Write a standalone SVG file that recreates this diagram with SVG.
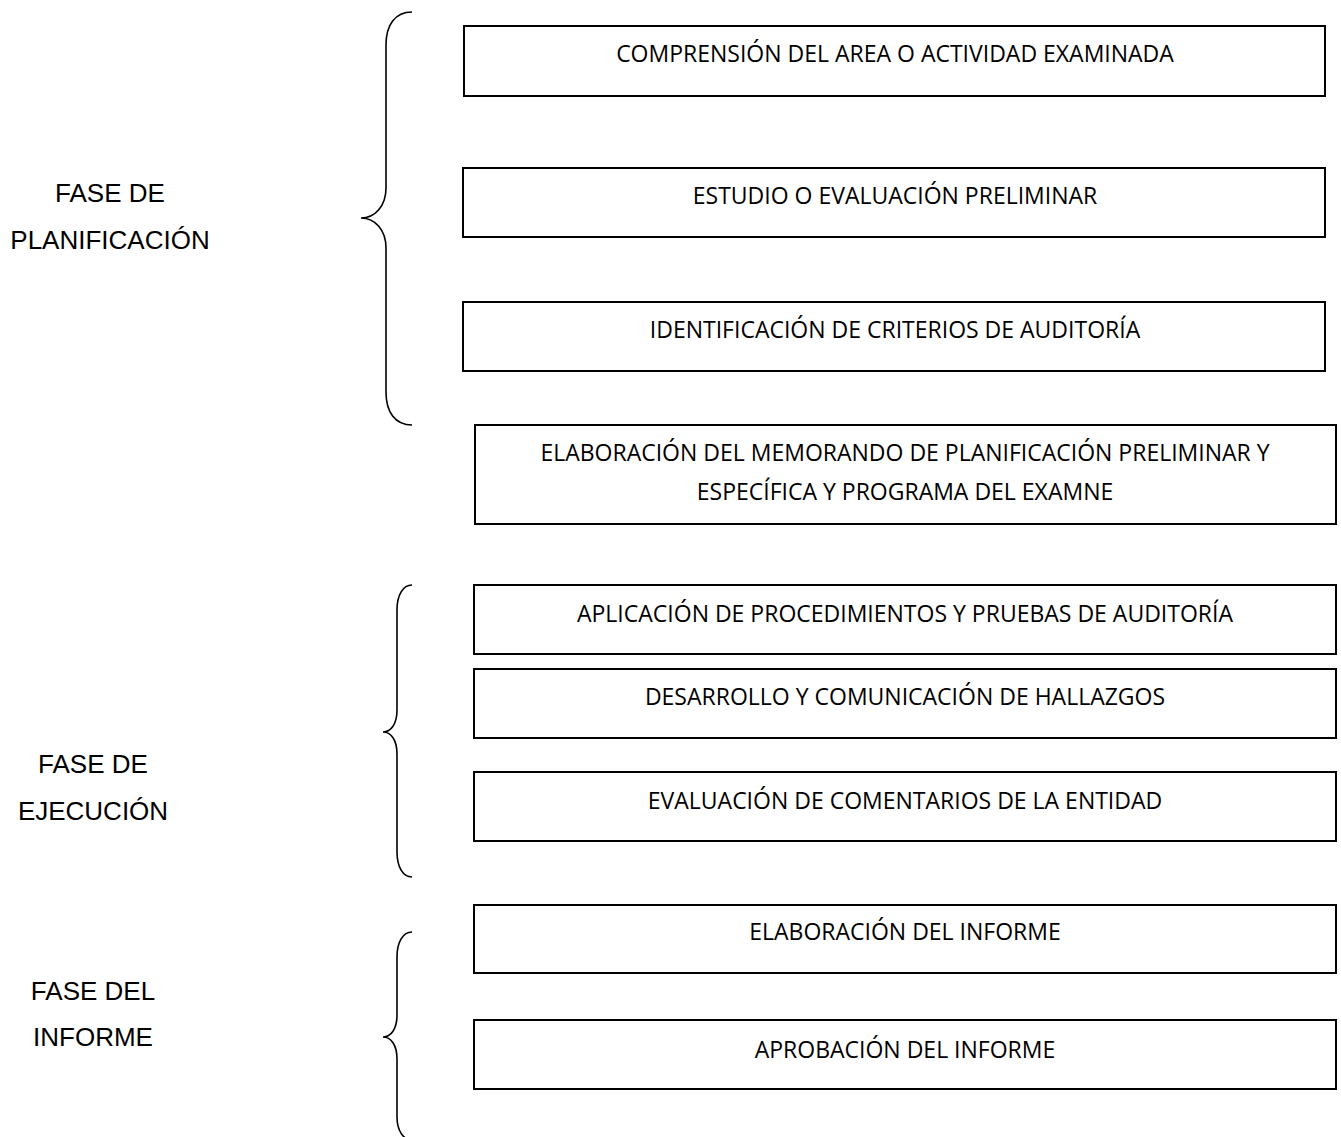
<svg xmlns="http://www.w3.org/2000/svg" width="1341" height="1137" viewBox="0 0 1341 1137">
  <style>
    .box { fill: #ffffff; stroke: #000000; stroke-width: 2; }
    .boxtext { font-family: "Open Sans", "Noto Sans", sans-serif; font-size: 23px; fill: #000000; text-anchor: middle; }
    .phase { font-family: "Liberation Sans", Arial, sans-serif; font-size: 26px; fill: #000000; text-anchor: middle; }
    .brace { fill: none; stroke: #000000; stroke-width: 1.6; }
  </style>
  <rect width="1341" height="1137" fill="#ffffff"/>

  <!-- Phase labels -->
  <g id="phase-planificacion">
    <text class="phase" x="110" y="202">FASE DE</text>
    <text class="phase" x="110" y="249">PLANIFICACIÓN</text>
  </g>
  <g id="phase-ejecucion">
    <text class="phase" x="93" y="773">FASE DE</text>
    <text class="phase" x="93" y="820">EJECUCIÓN</text>
  </g>
  <g id="phase-informe">
    <text class="phase" x="93" y="1000">FASE DEL</text>
    <text class="phase" x="93" y="1046">INFORME</text>
  </g>

  <!-- Braces grouping the steps of each phase -->
  <g id="connectors">
    <path class="brace" d="M412,12 C395,12 386,25 386,45 L386,188 C386,206 375,218 361,218 C375,218 386,230 386,248 L386,392 C386,412 395,425 412,425"/>
    <path class="brace" d="M412,585 C403,585 397,595 397,610 L397,710 C397,724 391,732 383,732 C391,732 397,740 397,754 L397,852 C397,867 403,877 412,877"/>
    <path class="brace" d="M412,932 C403,932 397,942 397,957 L397,1015 C397,1029 391,1037 383,1037 C391,1037 397,1045 397,1059 L397,1117 C397,1130 403,1140 412,1140"/>
  </g>

  <!-- Planning phase steps -->
  <g id="step-comprension">
    <rect class="box" x="464" y="26" width="861" height="70"/>
    <text class="boxtext" x="895" y="62">COMPRENSIÓN DEL AREA O ACTIVIDAD EXAMINADA</text>
  </g>
  <g id="step-estudio">
    <rect class="box" x="463" y="168" width="862" height="69"/>
    <text class="boxtext" x="895" y="204">ESTUDIO O EVALUACIÓN PRELIMINAR</text>
  </g>
  <g id="step-criterios">
    <rect class="box" x="463" y="302" width="862" height="69"/>
    <text class="boxtext" x="895" y="338">IDENTIFICACIÓN DE CRITERIOS DE AUDITORÍA</text>
  </g>
  <g id="step-memorando">
    <rect class="box" x="475" y="425" width="861" height="99"/>
    <text class="boxtext" x="905" y="461">ELABORACIÓN DEL MEMORANDO DE PLANIFICACIÓN PRELIMINAR Y</text>
    <text class="boxtext" x="905" y="500">ESPECÍFICA Y PROGRAMA DEL EXAMNE</text>
  </g>

  <!-- Execution phase steps -->
  <g id="step-procedimientos">
    <rect class="box" x="474" y="585" width="862" height="69"/>
    <text class="boxtext" x="905" y="622">APLICACIÓN DE PROCEDIMIENTOS Y PRUEBAS DE AUDITORÍA</text>
  </g>
  <g id="step-hallazgos">
    <rect class="box" x="474" y="669" width="862" height="69"/>
    <text class="boxtext" x="905" y="705">DESARROLLO Y COMUNICACIÓN DE HALLAZGOS</text>
  </g>
  <g id="step-comentarios">
    <rect class="box" x="474" y="772" width="862" height="69"/>
    <text class="boxtext" x="905" y="809">EVALUACIÓN DE COMENTARIOS DE LA ENTIDAD</text>
  </g>

  <!-- Report phase steps -->
  <g id="step-elaboracion-informe">
    <rect class="box" x="474" y="905" width="862" height="68"/>
    <text class="boxtext" x="905" y="940">ELABORACIÓN DEL INFORME</text>
  </g>
  <g id="step-aprobacion-informe">
    <rect class="box" x="474" y="1020" width="862" height="69"/>
    <text class="boxtext" x="905" y="1058">APROBACIÓN DEL INFORME</text>
  </g>
</svg>
